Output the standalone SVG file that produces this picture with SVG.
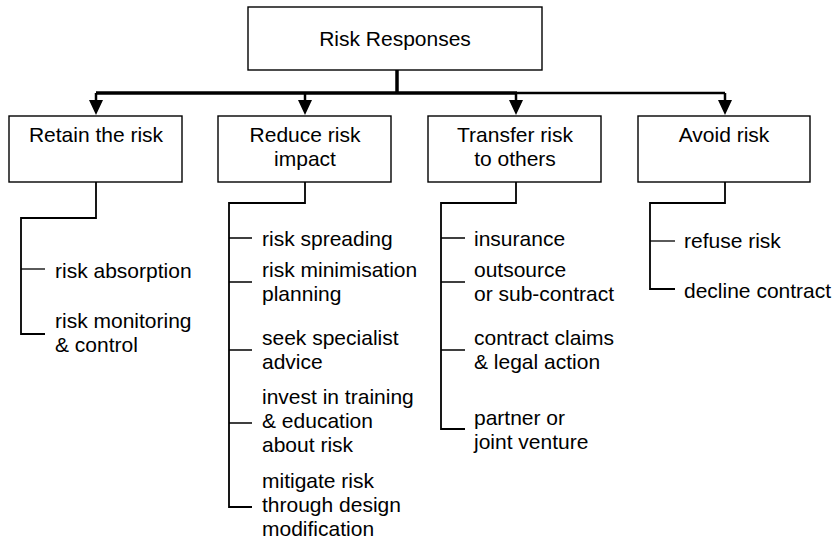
<svg xmlns="http://www.w3.org/2000/svg" width="837" height="542" viewBox="0 0 837 542">
<style>
.box{fill:#fff;stroke:#000;stroke-width:1.4}
text{font-family:"Liberation Sans",Arial,sans-serif;font-size:21px;fill:#000}
.c{text-anchor:middle}
.main{fill:none;stroke:#000;stroke-linecap:butt}
.tree{fill:none;stroke:#000;stroke-width:1.8}
.tick{fill:none;stroke:#000;stroke-width:1.3}
</style>
<defs>
<marker id="ah" markerWidth="14" markerHeight="16" refX="7" refY="15" orient="auto" markerUnits="userSpaceOnUse">
<path d="M0,0 L14,0 L7,15 Z" fill="#000"/>
</marker>
</defs>
<g id="connectors">
<path class="main" d="M397,70 V93" stroke-width="3.5"/>
<path class="main" d="M96,93 H517" stroke-width="3.5"/>
<path class="main" d="M517,93 H725" stroke-width="2.5"/>
<g stroke="#000" stroke-width="2.5" fill="none">
<line x1="96" y1="93" x2="96" y2="101"/>
<line x1="305" y1="93" x2="305" y2="101"/>
<line x1="516" y1="93" x2="516" y2="101"/>
<line x1="725" y1="93" x2="725" y2="101"/>
</g>
<path d="M89,100 L103,100 L96,115 Z M298,100 L312,100 L305,115 Z M509,100 L523,100 L516,115 Z M718,100 L732,100 L725,115 Z" fill="#000"/>
<path class="tree" d="M96,182 V218 H21 V334 H45"/>
<path class="tick" d="M21,269 H45"/>
<path class="tree" d="M305,182 V203 H229 V507 H252"/>
<path class="tick" d="M229,238 H252 M229,282 H252 M229,350 H252 M229,423 H252"/>
<path class="tree" d="M516,182 V203 H441 V429 H465"/>
<path class="tick" d="M441,238 H465 M441,282 H465 M441,350 H465"/>
<path class="tree" d="M725,182 V203 H650 V289 H675"/>
<path class="tick" d="M650,241 H675"/>
</g>
<g id="root">
<rect class="box" x="248" y="7" width="294" height="63"/>
<text class="c" x="395" y="46">Risk Responses</text>
</g>
<g id="retain">
<rect class="box" x="9" y="116" width="173" height="66"/>
<text class="c" x="96" y="142">Retain the risk</text>
</g>
<g id="reduce">
<rect class="box" x="218" y="116" width="173" height="66"/>
<text class="c" x="305" y="142">Reduce risk</text>
<text class="c" x="305" y="166">impact</text>
</g>
<g id="transfer">
<rect class="box" x="428" y="116" width="173" height="66"/>
<text class="c" x="515" y="142">Transfer risk</text>
<text class="c" x="515" y="166">to others</text>
</g>
<g id="avoid">
<rect class="box" x="638" y="116" width="172" height="66"/>
<text class="c" x="724" y="142">Avoid risk</text>
</g>
<g id="retain-items">
<text x="55" y="278">risk absorption</text>
<text x="55" y="328">risk monitoring</text>
<text x="55" y="352">&amp; control</text>
</g>
<g id="reduce-items">
<text x="262" y="246">risk spreading</text>
<text x="262" y="277">risk minimisation</text>
<text x="262" y="301">planning</text>
<text x="262" y="345">seek specialist</text>
<text x="262" y="369">advice</text>
<text x="262" y="404">invest in training</text>
<text x="262" y="428">&amp; education</text>
<text x="262" y="452">about risk</text>
<text x="262" y="488">mitigate risk</text>
<text x="262" y="512">through design</text>
<text x="262" y="536">modification</text>
</g>
<g id="transfer-items">
<text x="474" y="246">insurance</text>
<text x="474" y="277">outsource</text>
<text x="474" y="301">or sub-contract</text>
<text x="474" y="345">contract claims</text>
<text x="474" y="369">&amp; legal action</text>
<text x="474" y="425">partner or</text>
<text x="474" y="449">joint venture</text>
</g>
<g id="avoid-items">
<text x="684" y="248">refuse risk</text>
<text x="684" y="298">decline contract</text>
</g>
</svg>
